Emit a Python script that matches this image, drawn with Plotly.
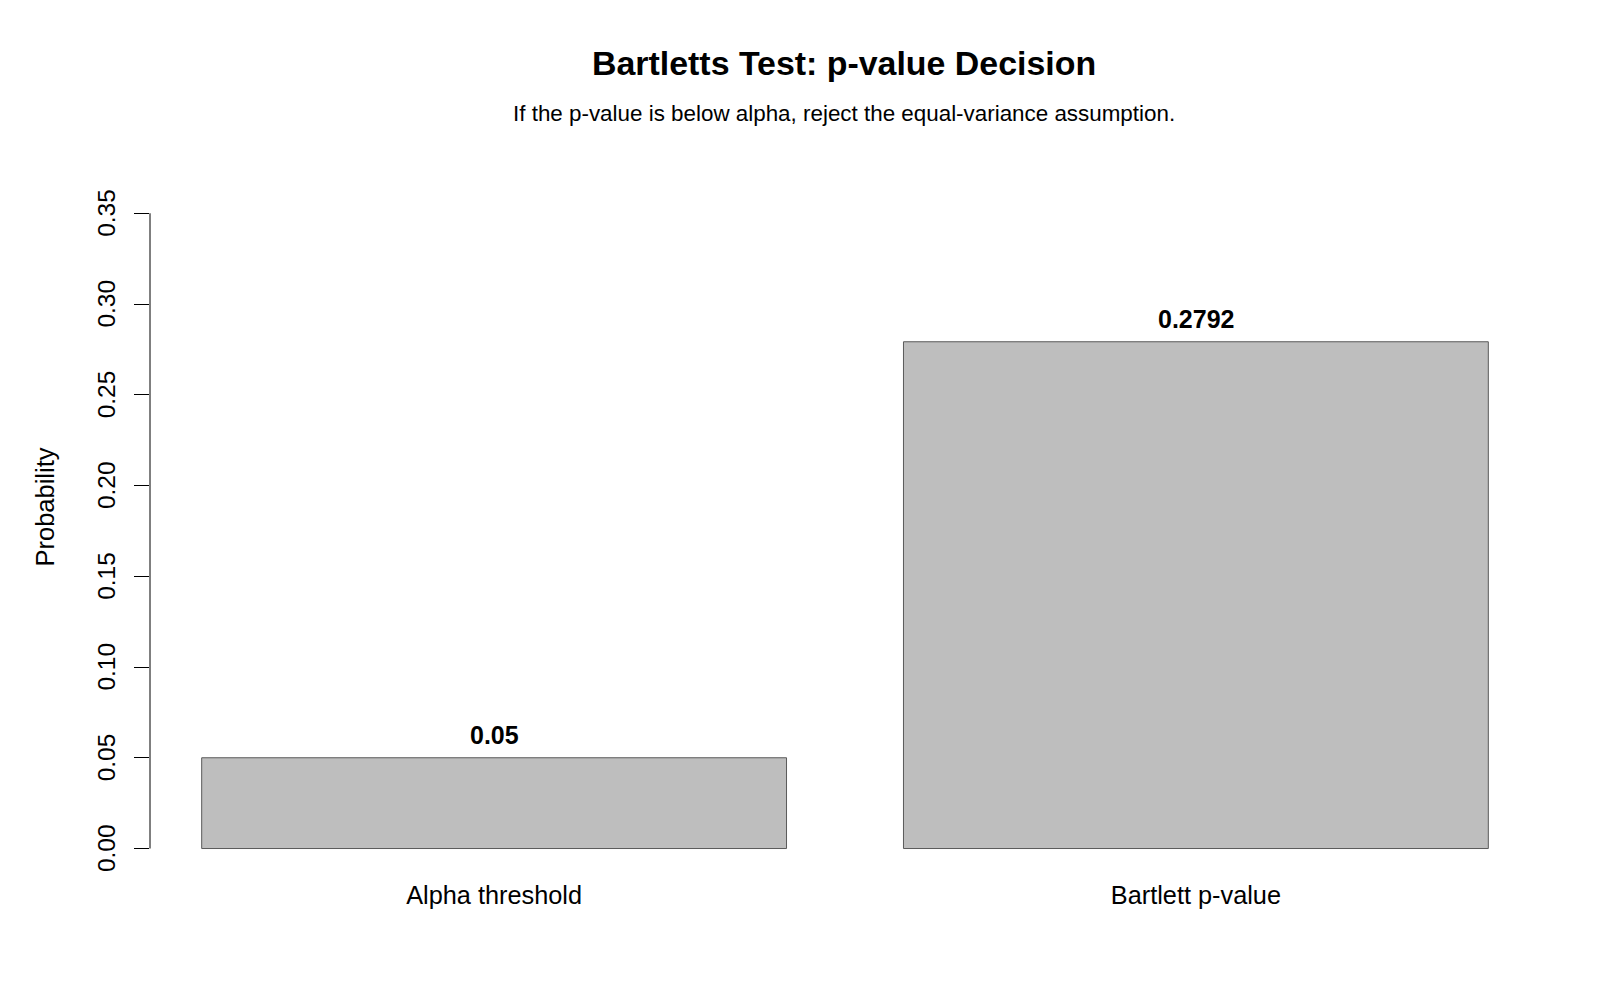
import plotly.graph_objects as go

categories = ["Alpha threshold", "Bartlett p-value"]
values = [0.05, 0.2792]
value_labels = ["0.05", "0.2792"]
y_ticks = [0.00, 0.05, 0.10, 0.15, 0.20, 0.25, 0.30, 0.35]
y_tick_text = ["0.00", "0.05", "0.10", "0.15", "0.20", "0.25", "0.30", "0.35"]

title_text = "Bartletts Test: p-value Decision"
subtitle_text = "If the p-value is below alpha, reject the equal-variance assumption."
y_title = "Probability"

FONT = "Liberation Sans, Arial, sans-serif"

# plot region in pixels (R-like user region)
T, B = 140.0, 874.5
H = B - T


def paper_y(px):
    return (B - px) / H


fig = go.Figure()
fig.add_trace(go.Bar(
    x=categories,
    y=values,
    marker=dict(color="#BEBEBE", line=dict(color="#5a5a5a", width=1)),
    hoverinfo="x+y",
))

# value labels above bars
for c, v, t in zip(categories, values, value_labels):
    fig.add_annotation(
        x=c, y=v, xref="x", yref="y", text="<b>" + t + "</b>",
        showarrow=False, yanchor="bottom", yshift=6.5,
        font=dict(family=FONT, size=25, color="black"),
    )

# y axis line only spanning the tick range (R style)
fig.add_shape(type="line", xref="paper", yref="y", x0=0, x1=0,
              y0=y_ticks[0], y1=y_ticks[-1],
              line=dict(color="black", width=1))

# title and subtitle
fig.add_annotation(text="<b>" + title_text + "</b>", xref="paper", yref="paper",
                   x=(844 - 150) / 1390, y=paper_y(63),
                   xanchor="center", yanchor="middle", showarrow=False,
                   font=dict(family=FONT, size=33.9, color="black"))
fig.add_annotation(text=subtitle_text, xref="paper", yref="paper",
                   x=(844 - 150) / 1390, y=paper_y(113),
                   xanchor="center", yanchor="middle", showarrow=False,
                   font=dict(family=FONT, size=22.4, color="black"))

px_per_unit = (849 - 213.3) / 0.35
y_lo = -(B - 849) / px_per_unit
y_hi = 0.35 + (213.3 - T) / px_per_unit

fig.update_layout(
    width=1600, height=1000,
    margin=dict(l=150, r=60, t=T, b=1000 - B, pad=0),
    paper_bgcolor="white", plot_bgcolor="white",
    showlegend=False,
    bargap=1 - 1 / 1.2,
    font=dict(family=FONT, size=24, color="black"),
    xaxis=dict(
        type="category", range=[-0.4903, 1.4903],
        showline=False, showgrid=False, zeroline=False, ticks="",
        tickfont=dict(family=FONT, size=25.3, color="black"),
        ticklabelstandoff=4,
    ),
    yaxis=dict(
        range=[y_lo, y_hi],
        tickmode="array", tickvals=y_ticks,
        ticktext=[t + "\u00a0" for t in y_tick_text],
        ticks="outside", ticklen=15, tickwidth=1, tickcolor="black",
        showline=False, showgrid=False, zeroline=False,
        tickangle=-90,
        ticklabelstandoff=9,
        tickfont=dict(family=FONT, size=24.5, color="black"),
        title=dict(text=y_title, font=dict(family=FONT, size=25.5, color="black"), standoff=31),
    ),
)

fig.write_html("out.html")
